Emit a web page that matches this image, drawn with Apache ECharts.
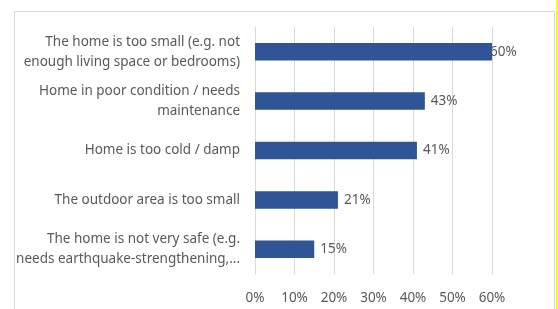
<!DOCTYPE html>
<html style="height: 100%">
<head>
<meta charset="utf-8">
</head>
<body style="height: 100%; margin: 0; background: #fff">
<div id="container" style="width: 558px; height: 309px"></div>
<script type="text/javascript" src="https://cdn.jsdelivr.net/npm/echarts@6/dist/echarts.min.js"></script>
<script type="text/javascript">
var categories = [
  'The home is too small (e.g. not\nenough living space or bedrooms)',
  'Home in poor condition / needs\nmaintenance',
  'Home is too cold / damp',
  'The outdoor area is too small',
  'The home is not very safe (e.g.\nneeds earthquake-strengthening,...'
];
var values = [60, 43, 41, 21, 15];
var xTicks = [0, 10, 20, 30, 40, 50, 60];

var font = '"Noto Sans", sans-serif';
var myChart = echarts.init(document.getElementById('container'));

var barData = values.map(function (v, i) {
  // Excel nudged the 60% label back over the end of the bar
  if (i === 0) return { value: v, label: { distance: -2 } };
  return v;
});

option = {
  backgroundColor: '#ffffff',
  animation: false,
  graphic: [
    { type: 'rect', shape: { x: 14.5, y: 11.5, width: 540, height: 310 },
      style: { fill: 'none', stroke: '#d9d9d9', lineWidth: 1 } },
    { type: 'rect', shape: { x: 556, y: 0, width: 2, height: 309 },
      style: { fill: '#ffff00' } }
  ],
  grid: { left: 255, right: 66, top: 27, bottom: 35 },
  xAxis: {
    type: 'value',
    min: xTicks[0],
    max: xTicks[xTicks.length - 1],
    interval: 10,
    axisLine: { show: false },
    axisTick: { show: false },
    splitLine: { lineStyle: { color: '#d9d9d9', width: 1 } },
    axisLabel: {
      formatter: '{value}%',
      color: '#595959',
      fontFamily: font,
      fontSize: 13.5,
      margin: 17
    }
  },
  yAxis: {
    type: 'category',
    inverse: true,
    data: categories,
    axisLine: { show: false },
    axisTick: { show: false },
    axisLabel: {
      color: '#595959',
      fontFamily: font,
      fontSize: 13.5,
      lineHeight: 20,
      margin: 15,
      align: 'right'
    }
  },
  series: [
    {
      type: 'bar',
      data: barData,
      barWidth: 17.5,
      itemStyle: { color: '#2f5597' },
      label: {
        show: true,
        position: 'right',
        distance: 6,
        formatter: '{c}%',
        color: '#595959',
        fontFamily: font,
        fontSize: 13.5
      }
    }
  ]
};

myChart.setOption(option, true);
</script>
</body>
</html>
